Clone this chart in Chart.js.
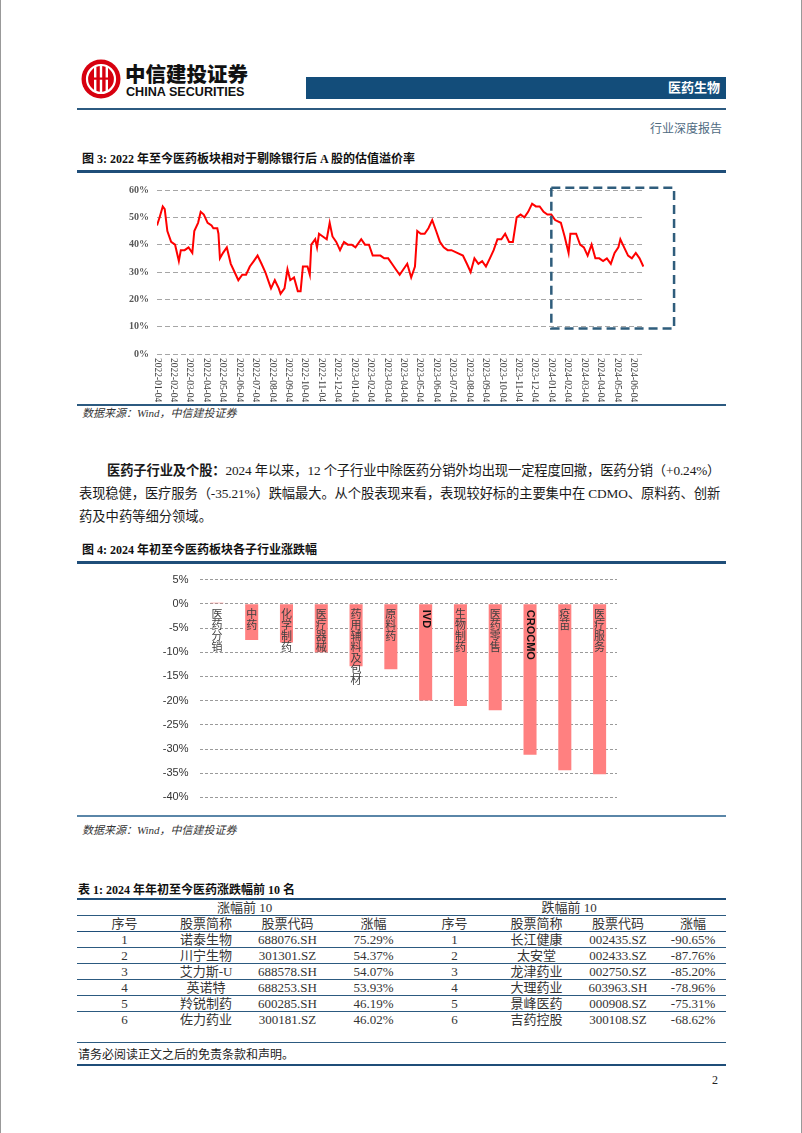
<!DOCTYPE html>
<html>
<head>
<meta charset="utf-8">
<script src="https://cdn.jsdelivr.net/npm/chart.js@4.4.1/dist/chart.umd.min.js"></script>
<style>
  body { margin: 0; background: #fff; }
  #page { position: relative; width: 802px; height: 1133px; overflow: hidden;
    font-family: "Liberation Serif", "Noto Sans CJK SC", serif; color: #222; }
  .abs { position: absolute; }
  .rule { position: absolute; left: 77px; width: 649px; }
  .cap { position: absolute; left: 82px; font-size: 12px; font-weight: bold; color: #111; }
  .src { position: absolute; left: 82px; font-size: 11px; font-style: italic; color: #333; }
  .para div { white-space: nowrap; height: 23px; line-height: 23px; }
  table { border-collapse: collapse; table-layout: fixed; width: 649px; font-size: 13px; color: #333; }
  td { text-align: center; padding: 0; height: 15px; line-height: 15px; border-bottom: 1px solid #2c5a80; }
</style>
</head>
<body>
<div id="page">
  <div class="abs" style="left:0;top:0;width:800px;height:1133px;border-left:1px solid #999;border-right:1px solid #999;"></div>

  <!-- header -->
  <svg class="abs" style="left:81px;top:59px" width="40" height="40" viewBox="0 0 40 40">
    <circle cx="20" cy="20" r="19.5" fill="#d7000f"/>
    <circle cx="20" cy="20" r="14" fill="none" stroke="#fff" stroke-width="2.2"/>
    <rect x="13" y="8" width="2.4" height="24" fill="#fff"/>
    <rect x="18.8" y="5" width="2.4" height="30" fill="#fff"/>
    <rect x="24.6" y="8" width="2.4" height="24" fill="#fff"/>
    <rect x="8" y="18.5" width="24" height="2.2" fill="#d7000f"/>
  </svg>
  <div class="abs" style="left:125px;top:58px;font:900 20.5px 'Noto Sans CJK SC';color:#111;">中信建投证券</div>
  <div class="abs" style="left:126px;top:85px;font:bold 12.6px 'Liberation Sans';color:#111;">CHINA SECURITIES</div>
  <div class="abs" style="left:306px;top:77px;width:420px;height:22px;background:#134d7a;"></div>
  <div class="abs" style="left:600px;top:77px;width:120px;height:22px;line-height:22px;text-align:right;font:bold 13px 'Noto Sans CJK SC';color:#fff;">医药生物</div>
  <div class="rule" style="top:108px;height:1.5px;background:#2c5a80;"></div>
  <div class="abs" style="left:600px;top:119px;width:122px;text-align:right;font-size:12px;color:#4f6b82;">行业深度报告</div>

  <!-- figure 3 -->
  <div class="cap" style="top:149px;">图 3: 2022 年至今医药板块相对于剔除银行后 A 股的估值溢价率</div>
  <div class="rule" style="top:170px;height:2.5px;background:#1f4e79;"></div>
  <div class="abs" style="left:100px;top:176px;width:590px;height:228px;"><canvas id="premiumChart"></canvas></div>
  <div class="rule" style="top:404px;height:1.5px;background:#2c5a80;"></div>
  <div class="src" style="top:404px;">数据来源：Wind，中信建投证券</div>

  <!-- paragraph -->
  <div class="para abs" style="left:79px;top:459px;width:643px;font-size:13.3px;color:#1a1a1a;">
    <div data-w="613" style="padding-left:28px;"><span><b>医药子行业及个股：</b>2024 年以来，12 个子行业中除医药分销外均出现一定程度回撤，医药分销（+0.24%）</span></div>
    <div data-w="641"><span>表现稳健，医疗服务（-35.21%）跌幅最大。从个股表现来看，表现较好标的主要集中在 CDMO、原料药、创新</span></div>
    <div><span>药及中药等细分领域。</span></div>
  </div>

  <!-- figure 4 -->
  <div class="cap" style="top:540px;">图 4: 2024 年初至今医药板块各子行业涨跌幅</div>
  <div class="rule" style="top:561px;height:2.5px;background:#1f4e79;"></div>
  <div class="abs" style="left:150px;top:562px;width:480px;height:253px;"><canvas id="industryChart"></canvas></div>
  <div class="rule" style="top:815px;height:1.5px;background:#5a86a8;"></div>
  <div class="src" style="top:821px;">数据来源：Wind，中信建投证券</div>

  <!-- table 1 -->
  <div class="cap" style="top:880px;left:78px;">表 1: 2024 年年初至今医药涨跌幅前 10 名</div>
  <div class="rule" style="top:898px;height:2px;background:#1f4e79;"></div>
  <div class="abs" style="left:77px;top:900px;">
    <table id="rankTable">
      <colgroup>
        <col style="width:95px"><col style="width:68px"><col style="width:95px"><col style="width:77px">
        <col style="width:85px"><col style="width:79px"><col style="width:84px"><col style="width:66px">
      </colgroup>
      <tbody></tbody>
    </table>
  </div>

  <!-- footer -->
  <div class="rule" style="top:1042px;height:1px;background:#2c5a80;"></div>
  <div class="abs" style="left:78px;top:1045px;font-size:12px;color:#222;">请务必阅读正文之后的免责条款和声明。</div>
  <div class="rule" style="top:1064px;height:2px;background:#1f4e79;"></div>
  <div class="abs" style="left:712px;top:1073px;font-size:12px;color:#222;">2</div>
</div>

<script>
// ---- 图3 data: month offset from 2022-01-04, premium (%)
const tickLabels = [
  "2022-01-04", "2022-02-04", "2022-03-04", "2022-04-04", "2022-05-04", "2022-06-04",
  "2022-07-04", "2022-08-04", "2022-09-04", "2022-10-04", "2022-11-04", "2022-12-04",
  "2023-01-04", "2023-02-04", "2023-03-04", "2023-04-04", "2023-05-04", "2023-06-04",
  "2023-07-04", "2023-08-04", "2023-09-04", "2023-10-04", "2023-11-04", "2023-12-04",
  "2024-01-04", "2024-02-04", "2024-03-04", "2024-04-04", "2024-05-04", "2024-06-04"
];
const monthPos = [
  0.00, 0.16, 0.35, 0.47, 0.63, 0.86, 1.10, 1.33, 1.45, 1.68, 1.92, 2.15, 2.27, 2.50, 2.66, 2.85,
  3.08, 3.32, 3.43, 3.67, 3.74, 3.83, 4.02, 4.25, 4.49, 4.72, 4.95, 5.19, 5.42, 5.65, 5.89, 6.12,
  6.36, 6.59, 6.82, 6.94, 7.17, 7.41, 7.52, 7.76, 7.94, 8.11, 8.34, 8.57, 8.74, 8.88, 9.16, 9.30,
  9.39, 9.63, 9.74, 9.86, 10.09, 10.33, 10.51, 10.68, 10.91, 11.14, 11.38, 11.61, 11.85, 12.08,
  12.43, 12.66, 12.90, 13.13, 13.36, 13.60, 13.83, 14.07, 14.30, 14.53, 14.77, 15.00, 15.23,
  15.47, 15.70, 15.84, 16.05, 16.29, 16.52, 16.75, 16.99, 17.22, 17.45, 17.69, 17.92, 18.27,
  18.62, 18.86, 19.09, 19.32, 19.56, 19.79, 20.02, 20.26, 20.49, 20.72, 20.96, 21.19, 21.43,
  21.66, 21.89, 22.13, 22.36, 22.59, 22.83, 23.06, 23.29, 23.53, 23.76, 24.00, 24.23, 24.58,
  24.81, 25.05, 25.16, 25.51, 25.75, 25.98, 26.21, 26.45, 26.68, 26.92, 27.15, 27.38, 27.62,
  27.85, 28.08, 28.20, 28.43, 28.67, 28.90, 29.14, 29.37, 29.60
];
const premium = [
  47, 50, 54, 53, 45, 41, 40, 34, 38, 38, 39, 37, 45, 48, 52, 51,
  48, 47, 46, 46, 44, 35, 37, 39, 33, 30, 27, 29, 29, 32, 34, 36,
  33, 30, 26, 24, 27, 24, 22, 24, 31, 27, 28, 23, 23, 32, 32, 29,
  40, 42, 39, 44, 43, 42, 48, 43, 41, 38, 41, 40, 40, 39,
  42, 40, 40, 36, 36, 36, 35, 35, 33, 31, 29, 31, 33,
  28, 32, 45, 44, 44, 46, 49, 45, 41, 39, 38, 38, 37,
  36, 33, 30, 35, 33, 34, 32, 35, 38, 42, 42, 44, 41,
  41, 50, 51, 50, 52, 55, 54, 54, 52, 51, 51, 49, 48,
  43, 37, 44, 44, 40, 39, 36, 40, 35, 35, 34, 35, 33,
  37, 39, 42, 39, 36, 35, 37, 35, 32
];

// ---- 图4 data
const industries = ["医药分销", "中药", "化学制药", "医疗器械", "药用辅料及包材", "原料药",
  "IVD", "生物制药", "医药零售", "CROCMO", "疫苗", "医疗服务"];
const changes = [0.24, -7.5, -8.0, -10.0, -12.9, -13.5, -20.0, -21.1, -22.0, -31.2, -34.4, -35.21];

// ---- 表1 data
const tableHead = ["序号", "股票简称", "股票代码", "涨幅"];
const gainers = [
  ["1", "诺泰生物", "688076.SH", "75.29%"],
  ["2", "川宁生物", "301301.SZ", "54.37%"],
  ["3", "艾力斯-U", "688578.SH", "54.07%"],
  ["4", "英诺特", "688253.SH", "53.93%"],
  ["5", "羚锐制药", "600285.SH", "46.19%"],
  ["6", "佐力药业", "300181.SZ", "46.02%"]
];
const losers = [
  ["1", "长江健康", "002435.SZ", "-90.65%"],
  ["2", "太安堂", "002433.SZ", "-87.76%"],
  ["3", "龙津药业", "002750.SZ", "-85.20%"],
  ["4", "大理药业", "603963.SH", "-78.96%"],
  ["5", "景峰医药", "000908.SZ", "-75.31%"],
  ["6", "吉药控股", "300108.SZ", "-68.62%"]
];

// justify paragraph lines by letter spacing
document.querySelectorAll(".para div[data-w]").forEach(d => {
  const span = d.querySelector("span");
  const n = span.textContent.length;
  const extra = (+d.dataset.w - span.offsetWidth) / n;
  span.style.letterSpacing = extra + "px";
});

// table
let rows = `<tr><td colspan="4">涨幅前 10</td><td colspan="4">跌幅前 10</td></tr>`;
rows += `<tr>${tableHead.concat(tableHead).map(h => `<td style="border-bottom:1.5px solid #1f4e79">${h}</td>`).join("")}</tr>`;
gainers.forEach((g, i) => {
  const last = i === gainers.length - 1 ? ' style="border-bottom:none"' : "";
  rows += `<tr>${g.concat(losers[i]).map(c => `<td${last}>${c}</td>`).join("")}</tr>`;
});
document.querySelector("#rankTable tbody").innerHTML = rows;

// 图3
const highlightBox = {
  id: "highlightBox",
  afterDraw(chart) {
    const { ctx, scales: { x, y } } = chart;
    // rotated date labels, read top-down, one per month
    ctx.save();
    ctx.font = "9.5px 'Liberation Serif'";
    ctx.fillStyle = "#404040";
    ctx.textAlign = "left";
    ctx.textBaseline = "middle";
    tickLabels.forEach((label, i) => {
      ctx.save();
      ctx.translate(x.getPixelForValue(i), y.bottom + 4);
      ctx.rotate(Math.PI / 2);
      ctx.fillText(label, 0, 0);
      ctx.restore();
    });
    // dashed box around 2024
    const l = x.getPixelForValue(24), r = x.getPixelForValue(31.47);
    const t = y.getPixelForValue(60.8), b = y.getPixelForValue(9.3);
    ctx.strokeStyle = "#2f5d7c";
    ctx.lineWidth = 2.5;
    ctx.setLineDash([9, 5]);
    ctx.strokeRect(l, t, r - l, b - t);
    ctx.restore();
  }
};

new Chart(document.getElementById("premiumChart"), {
  type: "line",
  data: {
    datasets: [{
      data: monthPos.map((m, i) => ({ x: m, y: premium[i] })),
      borderColor: "#ff0000",
      borderWidth: 2,
      pointRadius: 0,
      tension: 0
    }]
  },
  options: {
    responsive: true,
    maintainAspectRatio: false,
    animation: false,
    layout: { padding: { top: 10, right: 46, left: 0, bottom: 0 } },
    plugins: { legend: { display: false }, tooltip: { enabled: false } },
    scales: {
      x: {
        type: "linear",
        min: 0,
        max: 29.64,
        grid: { display: false },
        border: { display: false },
        ticks: { display: false, stepSize: 1 },
        afterFit: s => { s.height = 50; }
      },
      y: {
        min: 0,
        max: 60,
        ticks: {
          stepSize: 10,
          padding: 8,
          color: "#595959",
          font: { family: "Liberation Serif", size: 10, weight: "bold" },
          callback: v => v + "%"
        },
        grid: { color: "#a6a6a6", drawTicks: false },
        border: { display: false, dash: [5, 3] },
        afterFit: s => { s.width = 57; }
      }
    }
  },
  plugins: [highlightBox]
});

// 图4
const barLabels = {
  id: "barLabels",
  afterDatasetsDraw(chart) {
    const { ctx, scales: { y } } = chart;
    const y0 = y.getPixelForValue(0);
    ctx.save();
    chart.getDatasetMeta(0).data.forEach((bar, i) => {
      const name = industries[i];
      if (/^[A-Z]+$/.test(name)) {
        ctx.font = "bold 11px 'Liberation Sans'";
        ctx.fillStyle = "#111";
        ctx.textAlign = "left";
        ctx.textBaseline = "middle";
        ctx.save();
        ctx.translate(bar.x, y0 + 6);
        ctx.rotate(Math.PI / 2);
        ctx.fillText(name, 0, 0);
        ctx.restore();
      } else {
        ctx.font = "11px 'Noto Sans CJK SC'";
        ctx.fillStyle = "#404040";
        ctx.textAlign = "center";
        ctx.textBaseline = "middle";
        [...name].forEach((ch, k) => ctx.fillText(ch, bar.x, y0 + 10 + k * 11));
      }
    });
    ctx.restore();
  }
};

new Chart(document.getElementById("industryChart"), {
  type: "bar",
  data: {
    labels: industries,
    datasets: [{
      data: changes,
      backgroundColor: "#ff8080",
      barPercentage: 0.5,
      categoryPercentage: 0.75
    }]
  },
  options: {
    responsive: true,
    maintainAspectRatio: false,
    animation: false,
    layout: { padding: { top: 12, right: 13, left: 0, bottom: 14 } },
    plugins: { legend: { display: false }, tooltip: { enabled: false } },
    scales: {
      x: { display: false },
      y: {
        min: -40,
        max: 5,
        ticks: {
          stepSize: 5,
          padding: 11,
          color: "#333",
          font: { family: "Liberation Sans", size: 11 },
          callback: v => v + "%"
        },
        grid: { color: "#9a9a9a", drawTicks: false },
        border: { display: false, dash: [3, 2] },
        afterFit: s => { s.width = 49.5; }
      }
    }
  },
  plugins: [barLabels]
});
</script>
</body>
</html>
